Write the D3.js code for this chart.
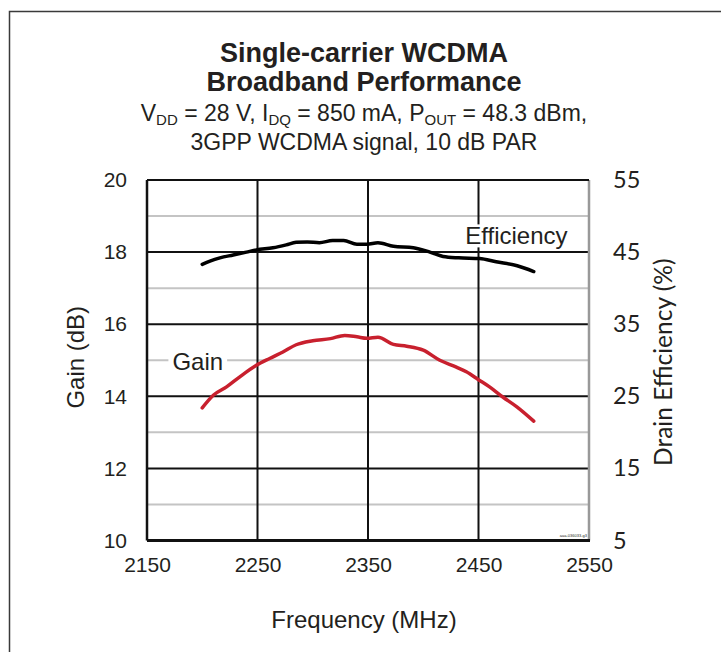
<!DOCTYPE html>
<html>
<head>
<meta charset="utf-8">
<script src="https://cdn.jsdelivr.net/npm/d3@7"></script>
<style>
  body { margin: 0; background: #fff; }
  text { fill: #231f20; }
</style>
</head>
<body>
<div id="chart"></div>
<script>
// frequency points (MHz)
const effFreq = [2200, 2207, 2216, 2228, 2240, 2249, 2264, 2276, 2285, 2295, 2306, 2318, 2328, 2340, 2349, 2359, 2373, 2391, 2406, 2418, 2432, 2451, 2466, 2485, 2500];
// drain efficiency (%)
const effValues = [43.3, 43.75, 44.2, 44.6, 45.0, 45.3, 45.6, 46.0, 46.35, 46.4, 46.3, 46.6, 46.6, 46.1, 46.1, 46.3, 45.8, 45.6, 45.0, 44.4, 44.2, 44.1, 43.65, 43.1, 42.3];

const gainFreq = [2200, 2210, 2222, 2234, 2249, 2261, 2273, 2285, 2300, 2316, 2329, 2340, 2349, 2359, 2373, 2385, 2400, 2415, 2430, 2439, 2450, 2460, 2472, 2485, 2500];
// gain (dB)
const gainValues = [13.68, 14.03, 14.26, 14.54, 14.86, 15.05, 15.23, 15.43, 15.54, 15.6, 15.69, 15.65, 15.61, 15.64, 15.44, 15.39, 15.28, 15.0, 14.81, 14.68, 14.46, 14.26, 13.98, 13.7, 13.31];

const xTicks = [2150, 2250, 2350, 2450, 2550];
const gainTicks = [10, 12, 14, 16, 18, 20];
const effTicks = [5, 15, 25, 35, 45, 55];

const W = 721, H = 652;
const margin = {top: 180, right: 132, bottom: 111.5, left: 147},
    width = W - margin.left - margin.right,
    height = H - margin.top - margin.bottom;

const root = d3.select("#chart")
  .append("svg")
    .attr("width", W)
    .attr("height", H);

// outer frame
root.append("rect")
  .attr("x", 9.5).attr("y", 11.5)
  .attr("width", W + 20).attr("height", H + 20)
  .attr("fill", "none")
  .attr("stroke", "#3a3a3a")
  .attr("stroke-width", 1.5);

const font = "'Liberation Sans', Arial, sans-serif";
const font2 = "Lato, 'Open Sans', sans-serif";
const cx = margin.left + width / 2 - 4;

// titles
root.append("text")
  .attr("x", cx).attr("y", 62)
  .attr("text-anchor", "middle")
  .attr("font-family", font).attr("font-weight", "bold").attr("font-size", 27)
  .text("Single-carrier WCDMA");
root.append("text")
  .attr("x", cx).attr("y", 91)
  .attr("text-anchor", "middle")
  .attr("font-family", font).attr("font-weight", "bold").attr("font-size", 27)
  .text("Broadband Performance");

const sub = root.append("text")
  .attr("x", cx).attr("y", 121)
  .attr("text-anchor", "middle")
  .attr("font-family", font).attr("font-size", 23);
const parts = [["V", ""], ["DD", "sub"], [" = 28 V, I", ""], ["DQ", "sub"], [" = 850 mA, P", ""], ["OUT", "sub"], [" = 48.3 dBm,", ""]];
parts.forEach(p => {
  const t = sub.append("tspan").text(p[0]);
  if (p[1] === "sub") t.attr("font-size", 15).attr("baseline-shift", "-4");
});
root.append("text")
  .attr("x", cx).attr("y", 150)
  .attr("text-anchor", "middle")
  .attr("font-family", font).attr("font-size", 23)
  .text("3GPP WCDMA signal, 10 dB PAR");

const svg = root.append("g")
  .attr("transform", `translate(${margin.left},${margin.top})`);

const x = d3.scaleLinear().domain([2150, 2550]).range([0, width]);
const y = d3.scaleLinear().domain([10, 20]).range([height, 0]);
const y2 = d3.scaleLinear().domain([5, 55]).range([height, 0]);

// minor grid
svg.selectAll(".minor")
  .data(d3.range(11, 20, 2))
  .join("line")
    .attr("x1", 0).attr("x2", width)
    .attr("y1", d => y(d)).attr("y2", d => y(d))
    .attr("stroke", "#c4c4c4")
    .attr("stroke-width", 2);

// major grid
svg.selectAll(".major")
  .data(gainTicks.slice(1, -1))
  .join("line")
    .attr("x1", 0).attr("x2", width)
    .attr("y1", d => y(d)).attr("y2", d => y(d))
    .attr("stroke", "#111")
    .attr("stroke-width", 2);

svg.selectAll(".vgrid")
  .data(xTicks.slice(1, -1))
  .join("line")
    .attr("x1", d => x(d)).attr("x2", d => x(d))
    .attr("y1", 0).attr("y2", height)
    .attr("stroke", "#111")
    .attr("stroke-width", 2);

// plot borders
svg.append("line").attr("x1", width).attr("x2", width).attr("y1", 0).attr("y2", height)
  .attr("stroke", "#999").attr("stroke-width", 2.5);
svg.append("line").attr("x1", 0).attr("x2", width).attr("y1", 0).attr("y2", 0)
  .attr("stroke", "#111").attr("stroke-width", 2);
svg.append("line").attr("x1", 0).attr("x2", 0).attr("y1", 0).attr("y2", height)
  .attr("stroke", "#111").attr("stroke-width", 2.5);
svg.append("line").attr("x1", 0).attr("x2", width + 1).attr("y1", height).attr("y2", height)
  .attr("stroke", "#111").attr("stroke-width", 3);

// labels with white background
function boxLabel(txt, xv, yv) {
  const g = svg.append("g");
  const t = g.append("text")
    .attr("x", x(xv)).attr("y", y(yv))
    .attr("font-family", font).attr("font-size", 24)
    .attr("dominant-baseline", "central")
    .text(txt);
  const b = t.node().getBBox();
  g.insert("rect", "text")
    .attr("x", b.x - 4).attr("y", b.y + 2)
    .attr("width", b.width + 8).attr("height", b.height - 4)
    .attr("fill", "#fff");
}
boxLabel("Efficiency", 2438, 18.45);
boxLabel("Gain", 2173, 14.97);

const effLine = d3.line()
  .x((d, i) => x(effFreq[i]))
  .y(d => y2(d))
  .curve(d3.curveMonotoneX);
const gainLine = d3.line()
  .x((d, i) => x(gainFreq[i]))
  .y(d => y(d))
  .curve(d3.curveMonotoneX);

svg.append("path")
  .datum(effValues)
  .attr("d", effLine)
  .attr("fill", "none")
  .attr("stroke", "#000")
  .attr("stroke-width", 3.5)
  .attr("stroke-linecap", "round");

svg.append("path")
  .datum(gainValues)
  .attr("d", gainLine)
  .attr("fill", "none")
  .attr("stroke", "#c8202e")
  .attr("stroke-width", 3.5)
  .attr("stroke-linecap", "round");

// axes
const gx = svg.append("g")
  .attr("transform", `translate(0,${height})`)
  .call(d3.axisBottom(x).tickValues(xTicks).tickSize(0).tickPadding(17).tickFormat(d3.format("d")));
gx.select(".domain").remove();
gx.selectAll("text").attr("font-family", font).attr("font-size", 21).attr("fill", "#231f20");

const gy = svg.append("g")
  .call(d3.axisLeft(y).tickValues(gainTicks).tickSize(0).tickPadding(20).tickFormat(d3.format("d")));
gy.select(".domain").remove();
gy.selectAll("text").attr("font-family", font).attr("font-size", 21).attr("fill", "#231f20");

const gy2 = svg.append("g")
  .attr("transform", `translate(${width},0)`)
  .call(d3.axisRight(y2).tickValues(effTicks).tickSize(0).tickPadding(24).tickFormat(d3.format("d")));
gy2.select(".domain").remove();
gy2.selectAll("text").attr("font-family", font2).attr("font-size", 23.5).attr("fill", "#231f20");

// axis titles
root.append("text")
  .attr("x", cx).attr("y", 628)
  .attr("text-anchor", "middle")
  .attr("font-family", font).attr("font-size", 24)
  .text("Frequency (MHz)");

root.append("text")
  .attr("transform", `translate(84,${margin.top + height / 2 - 3}) rotate(-90)`)
  .attr("text-anchor", "middle")
  .attr("font-family", font).attr("font-size", 24)
  .text("Gain (dB)");

root.append("text")
  .attr("transform", `translate(672,${margin.top + height / 2 + 2}) rotate(-90)`)
  .attr("text-anchor", "middle")
  .attr("font-family", font2).attr("font-size", 24.5)
  .text("Drain Efficiency (%)");

// figure id
root.append("text")
  .attr("x", margin.left + width - 2).attr("y", margin.top + height - 4)
  .attr("text-anchor", "end")
  .attr("font-family", font).attr("font-size", 4)
  .attr("fill", "#888")
  .text("aaa-036033-g3");
</script>
</body>
</html>
